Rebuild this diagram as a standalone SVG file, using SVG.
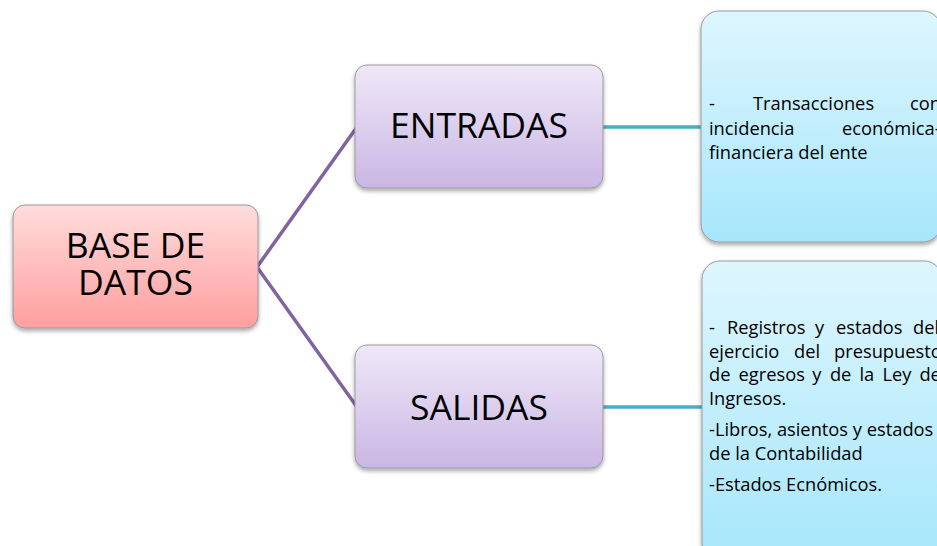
<svg xmlns="http://www.w3.org/2000/svg" width="937" height="546" viewBox="0 0 937 546">
  <defs>
    <linearGradient id="gRed" x1="0" y1="0" x2="0" y2="1">
      <stop offset="0" stop-color="#FFDCDC"/>
      <stop offset="1" stop-color="#FF9E9F"/>
    </linearGradient>
    <linearGradient id="gPurple" x1="0" y1="0" x2="0" y2="1">
      <stop offset="0" stop-color="#EEE8F7"/>
      <stop offset="1" stop-color="#CAB6E4"/>
    </linearGradient>
    <linearGradient id="gBlue" x1="0" y1="0" x2="0" y2="1">
      <stop offset="0" stop-color="#DEF6FE"/>
      <stop offset="1" stop-color="#A6E6FB"/>
    </linearGradient>
    <filter id="shadow" x="-10%" y="-10%" width="120%" height="130%">
      <feDropShadow dx="0" dy="2.5" stdDeviation="2" flood-color="#000" flood-opacity="0.35"/>
    </filter>
  </defs>
  <style>
    .box { stroke: #9A9A9A; stroke-width: 1; filter: url(#shadow); }
    .big { font-family: "Open Sans", "Liberation Sans", sans-serif; font-size: 35.5px; fill: #000; text-anchor: middle; }
    .small { font-family: "Open Sans", "Liberation Sans", sans-serif; font-size: 18.3px; fill: #000; }
    .purple { stroke: #8064A2; stroke-width: 3.5; fill: none; }
    .teal { stroke: #4BACC6; stroke-width: 3.5; fill: none; }
  </style>
  <rect width="937" height="546" fill="#FFFFFF"/>
  <g id="connectors">
    <line class="purple" x1="257" y1="267" x2="357" y2="127"/>
    <line class="purple" x1="257" y1="267" x2="357" y2="407"/>
    <line class="teal" x1="602" y1="127" x2="703" y2="127"/>
    <line class="teal" x1="602" y1="407" x2="703" y2="407"/>
  </g>
  <g id="base-de-datos">
    <rect class="box" x="13" y="205" width="245" height="123" rx="12" fill="url(#gRed)"/>
    <text class="big" x="135.5" y="258">BASE DE</text>
    <text class="big" x="135.5" y="295">DATOS</text>
  </g>
  <g id="entradas">
    <rect class="box" x="355" y="65" width="248" height="123" rx="12" fill="url(#gPurple)"/>
    <text class="big" x="479" y="138">ENTRADAS</text>
  </g>
  <g id="salidas">
    <rect class="box" x="355" y="345" width="248" height="123" rx="12" fill="url(#gPurple)"/>
    <text class="big" x="479" y="420">SALIDAS</text>
  </g>
  <g id="entradas-detalle">
    <rect class="box" x="701" y="11" width="240" height="231" rx="18" fill="url(#gBlue)"/>
    <text class="small" y="110"><tspan x="709">-</tspan><tspan x="753">Transacciones</tspan><tspan x="910">con</tspan></text>
    <text class="small" y="135"><tspan x="709">incidencia</tspan><tspan x="842">económica-</tspan></text>
    <text class="small" x="709" y="159">financiera del ente</text>
  </g>
  <g id="salidas-detalle">
    <rect class="box" x="702" y="261" width="240" height="300" rx="18" fill="url(#gBlue)"/>
    <text class="small" y="334"><tspan x="709">-</tspan><tspan x="727">Registros</tspan><tspan x="815">y</tspan><tspan x="836">estados</tspan><tspan x="913">del</tspan></text>
    <text class="small" y="358"><tspan x="709">ejercicio</tspan><tspan x="794">del</tspan><tspan x="834">presupuesto</tspan></text>
    <text class="small" y="381"><tspan x="709">de</tspan><tspan x="738.6">egresos</tspan><tspan x="812.3">y</tspan><tspan x="829.9">de</tspan><tspan x="859.5">la</tspan><tspan x="882.5">Ley</tspan><tspan x="919.4">de</tspan></text>
    <text class="small" x="709" y="405">Ingresos.</text>
    <text class="small" x="709" y="436">-Libros, asientos y estados</text>
    <text class="small" x="709" y="460">de la Contabilidad</text>
    <text class="small" x="709" y="491">-Estados Ecnómicos.</text>
  </g>
</svg>
